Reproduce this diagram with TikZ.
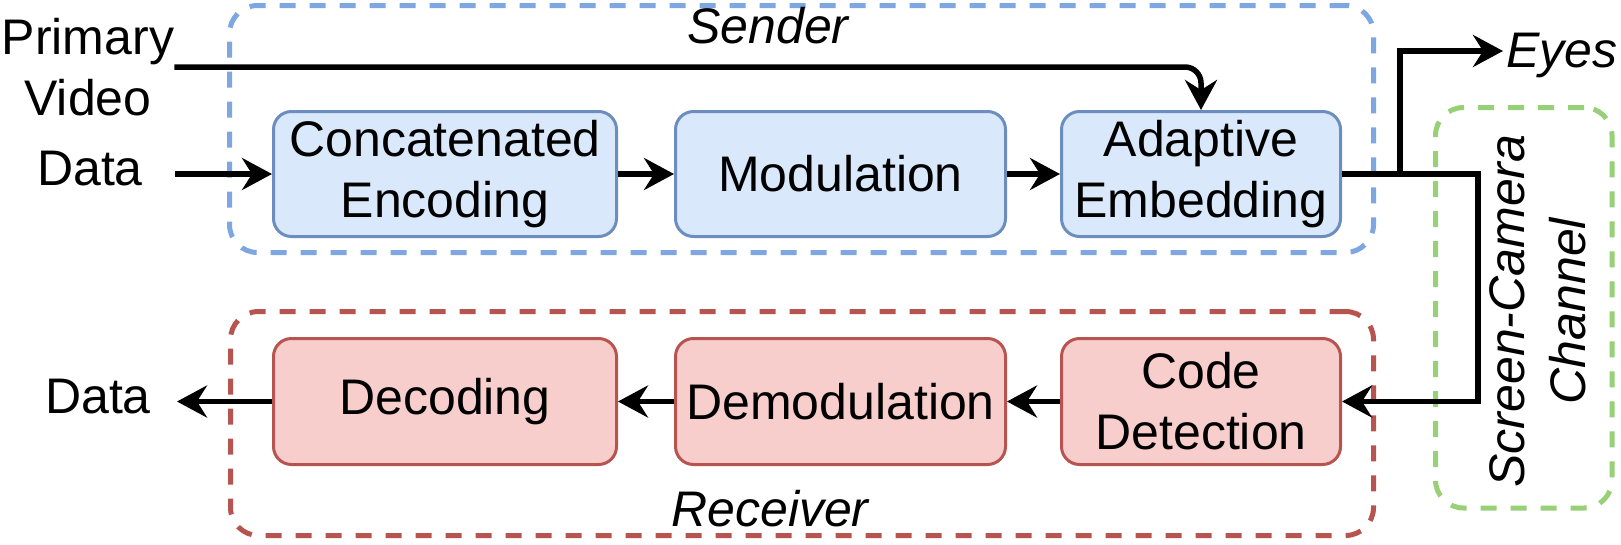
\documentclass[tikz,border=0pt]{standalone}
\usepackage{fontspec}
\setmainfont{Liberation Sans}
\usetikzlibrary{arrows.meta}
\definecolor{bfill}{HTML}{DAE8FC}
\definecolor{bdraw}{HTML}{6C8EBF}
\definecolor{rfill}{HTML}{F8CECC}
\definecolor{rdraw}{HTML}{B85450}
\definecolor{sdash}{HTML}{7EA6E0}
\definecolor{gdash}{HTML}{97D077}
\begin{document}
\begin{tikzpicture}[x=1pt,y=-1pt,
  every node/.style={font=\fontsize{50}{61}\selectfont, inner sep=0pt},
  procbox/.style={line width=3pt, rounded corners=18pt, align=center},
  bluebox/.style={procbox, draw=bdraw, fill=bfill, minimum height=125pt},
  redbox/.style={procbox, draw=rdraw, fill=rfill, minimum height=126pt},
  container/.style={line width=5pt, rounded corners=28pt, dash pattern=on 16pt off 14pt},
  flow/.style={line width=5.5pt, -{Stealth[length=30pt,width=32pt,inset=10pt]}},
  grouplabel/.style={font=\fontsize{50}{61}\selectfont\itshape},
]
\useasboundingbox (0,0) rectangle (1621,544);

% containers
\node[container, draw=sdash, minimum width=1144pt, minimum height=247pt] (sender) at (801.5,129) {};
\node[container, draw=rdraw, minimum width=1143pt, minimum height=224pt] (receiver) at (802,423.5) {};
\node[container, draw=gdash, minimum width=176.5pt, minimum height=400.5pt] (channel) at (1523.75,307.75) {};

\node[grouplabel] (senderlbl) at (768,25.5) {Sender};
\node[grouplabel] (receiverlbl) at (770,508.5) {Receiver};
\node[grouplabel, rotate=90, align=center] (channellbl) at (1538,311) {Screen-Camera\\Channel};

% sender row
\node[bluebox, minimum width=343pt] (concat) at (445,174) {Concatenated\\Encoding};
\node[bluebox, minimum width=330pt] (mod) at (840.5,174) {Modulation};
\node[bluebox, minimum width=279pt] (adapt) at (1201,174) {Adaptive\\Embedding};

% receiver row
\node[redbox, minimum width=343pt] (dec) at (445,401.5) {Decoding};
\node[redbox, minimum width=330pt] (demod) at (840.5,401.5) {Demodulation};
\node[redbox, minimum width=279pt] (code) at (1201,401.5) {Code\\Detection};

% outside texts
\node[align=center] (pv) at (88,67) {Primary\\Video};
\node (din) at (90,168.5) {Data};
\node (dout) at (98,396.5) {Data};
\node[grouplabel, anchor=base west] (eyes) at (1506,67) {Eyes};

\coordinate (br) at (1400,300);
\coordinate (ch) at (1478,300);

% connectors
\draw[flow, rounded corners=16pt] (pv.east) -| (adapt.north);
\draw[flow, shorten <=32pt] (din.east |- concat.west) -- (concat.west);
\draw[flow] (concat.east) -- (mod.west);
\draw[flow] (mod.east) -- (adapt.west);
\draw[flow] (adapt.east) -- (adapt.east -| ch) |- (code.east);
\draw[flow, shorten >=3pt] (adapt.east -| br) |- ([yshift=4pt]eyes.west);
\draw[flow] (code.west) -- (demod.west -| demod.east);
\draw[flow] (demod.west) -- (dec.east);
\draw[flow, shorten >=26pt] (dec.west) -- (dout.east |- dec.west);
\end{tikzpicture}
\end{document}
